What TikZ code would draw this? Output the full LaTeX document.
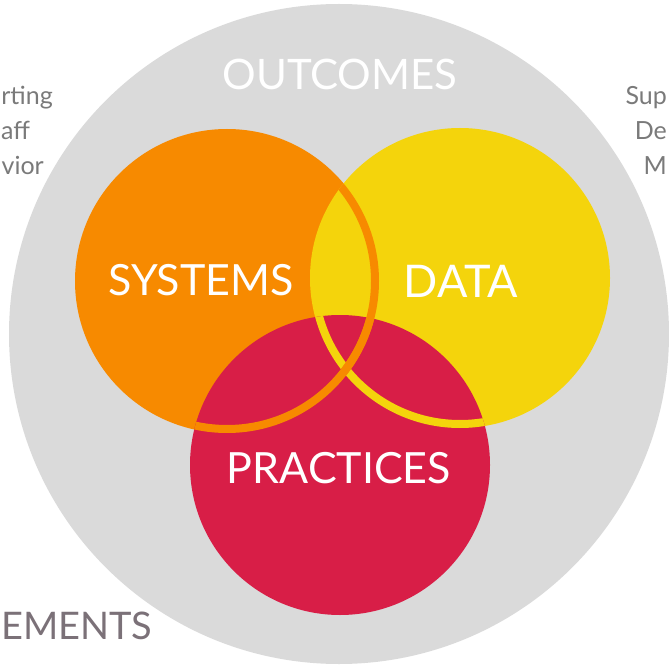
\documentclass[tikz,border=0pt]{standalone}
\usepackage{fontspec}
\setmainfont{Lato}
\definecolor{ringgray}{HTML}{DADADA}
\definecolor{sysorange}{HTML}{F78A00}
\definecolor{datayellow}{HTML}{F4D40C}
\definecolor{pracred}{HTML}{D81E47}
\definecolor{sidegray}{HTML}{7A7A7A}
\definecolor{elemgray}{HTML}{7B7178}

\begin{document}
\begin{tikzpicture}[x=1pt,y=-1pt,
		big/.style = {text=white, font=\fontsize{43}{43}\selectfont},
		side/.style = {text=sidegray, font=\fontsize{25}{25}\selectfont, inner sep=0pt},
		rim/.style = {line width=8pt}]
	\useasboundingbox (0,0) rectangle (669,668);
	\coordinate (outer) at (339,334);
	\coordinate (sys) at (227,281);
	\coordinate (dat) at (460,278);
	\coordinate (pra) at (340,465);
	% background disc and the three sets
	\fill[ringgray] (outer) circle[radius=330];
	\fill[sysorange] (sys) circle[radius=152];
	\fill[datayellow] (dat) circle[radius=150];
	\fill[pracred] (pra) circle[radius=150];
	% rims seen through the overlaps
	\begin{scope}
		\clip (pra) circle[radius=150];
		\draw[rim, datayellow] (dat) circle[radius=146];
	\end{scope}
	\begin{scope}
		\clip (dat) circle[radius=150];
		\draw[rim, sysorange] (sys) circle[radius=148];
	\end{scope}
	\begin{scope}
		\clip (pra) circle[radius=150];
		\draw[rim, sysorange] (sys) circle[radius=148];
	\end{scope}
	% labels
	\node[big] (systems) at (201,280) {SYSTEMS};
	\node[big, font=\fontsize{45}{45}\selectfont] (data) at (461,281) {DATA};
	\node[big] (practices) at (339,468) {PRACTICES};
	\node[text=white, font=\fontsize{42}{42}\selectfont] (outcomes) at (340,74) {OUTCOMES};
	\node[side, anchor=base east] (lefta) at (53,105) {rting};
	\node[side, anchor=base west] (leftb) at (1,140) {aff};
	\node[side, anchor=base east] (leftc) at (44,175) {vior};
	\node[side, anchor=base east] (righta) at (667,105) {Sup};
	\node[side, anchor=base east] (rightb) at (667,140) {De};
	\node[side, anchor=base east] (rightc) at (667,175) {M};
	\node[text=elemgray, font=\fontsize{38}{38}\selectfont, anchor=base west, inner sep=0pt] (elements) at (1,639) {EMENTS};
\end{tikzpicture}
\end{document}
